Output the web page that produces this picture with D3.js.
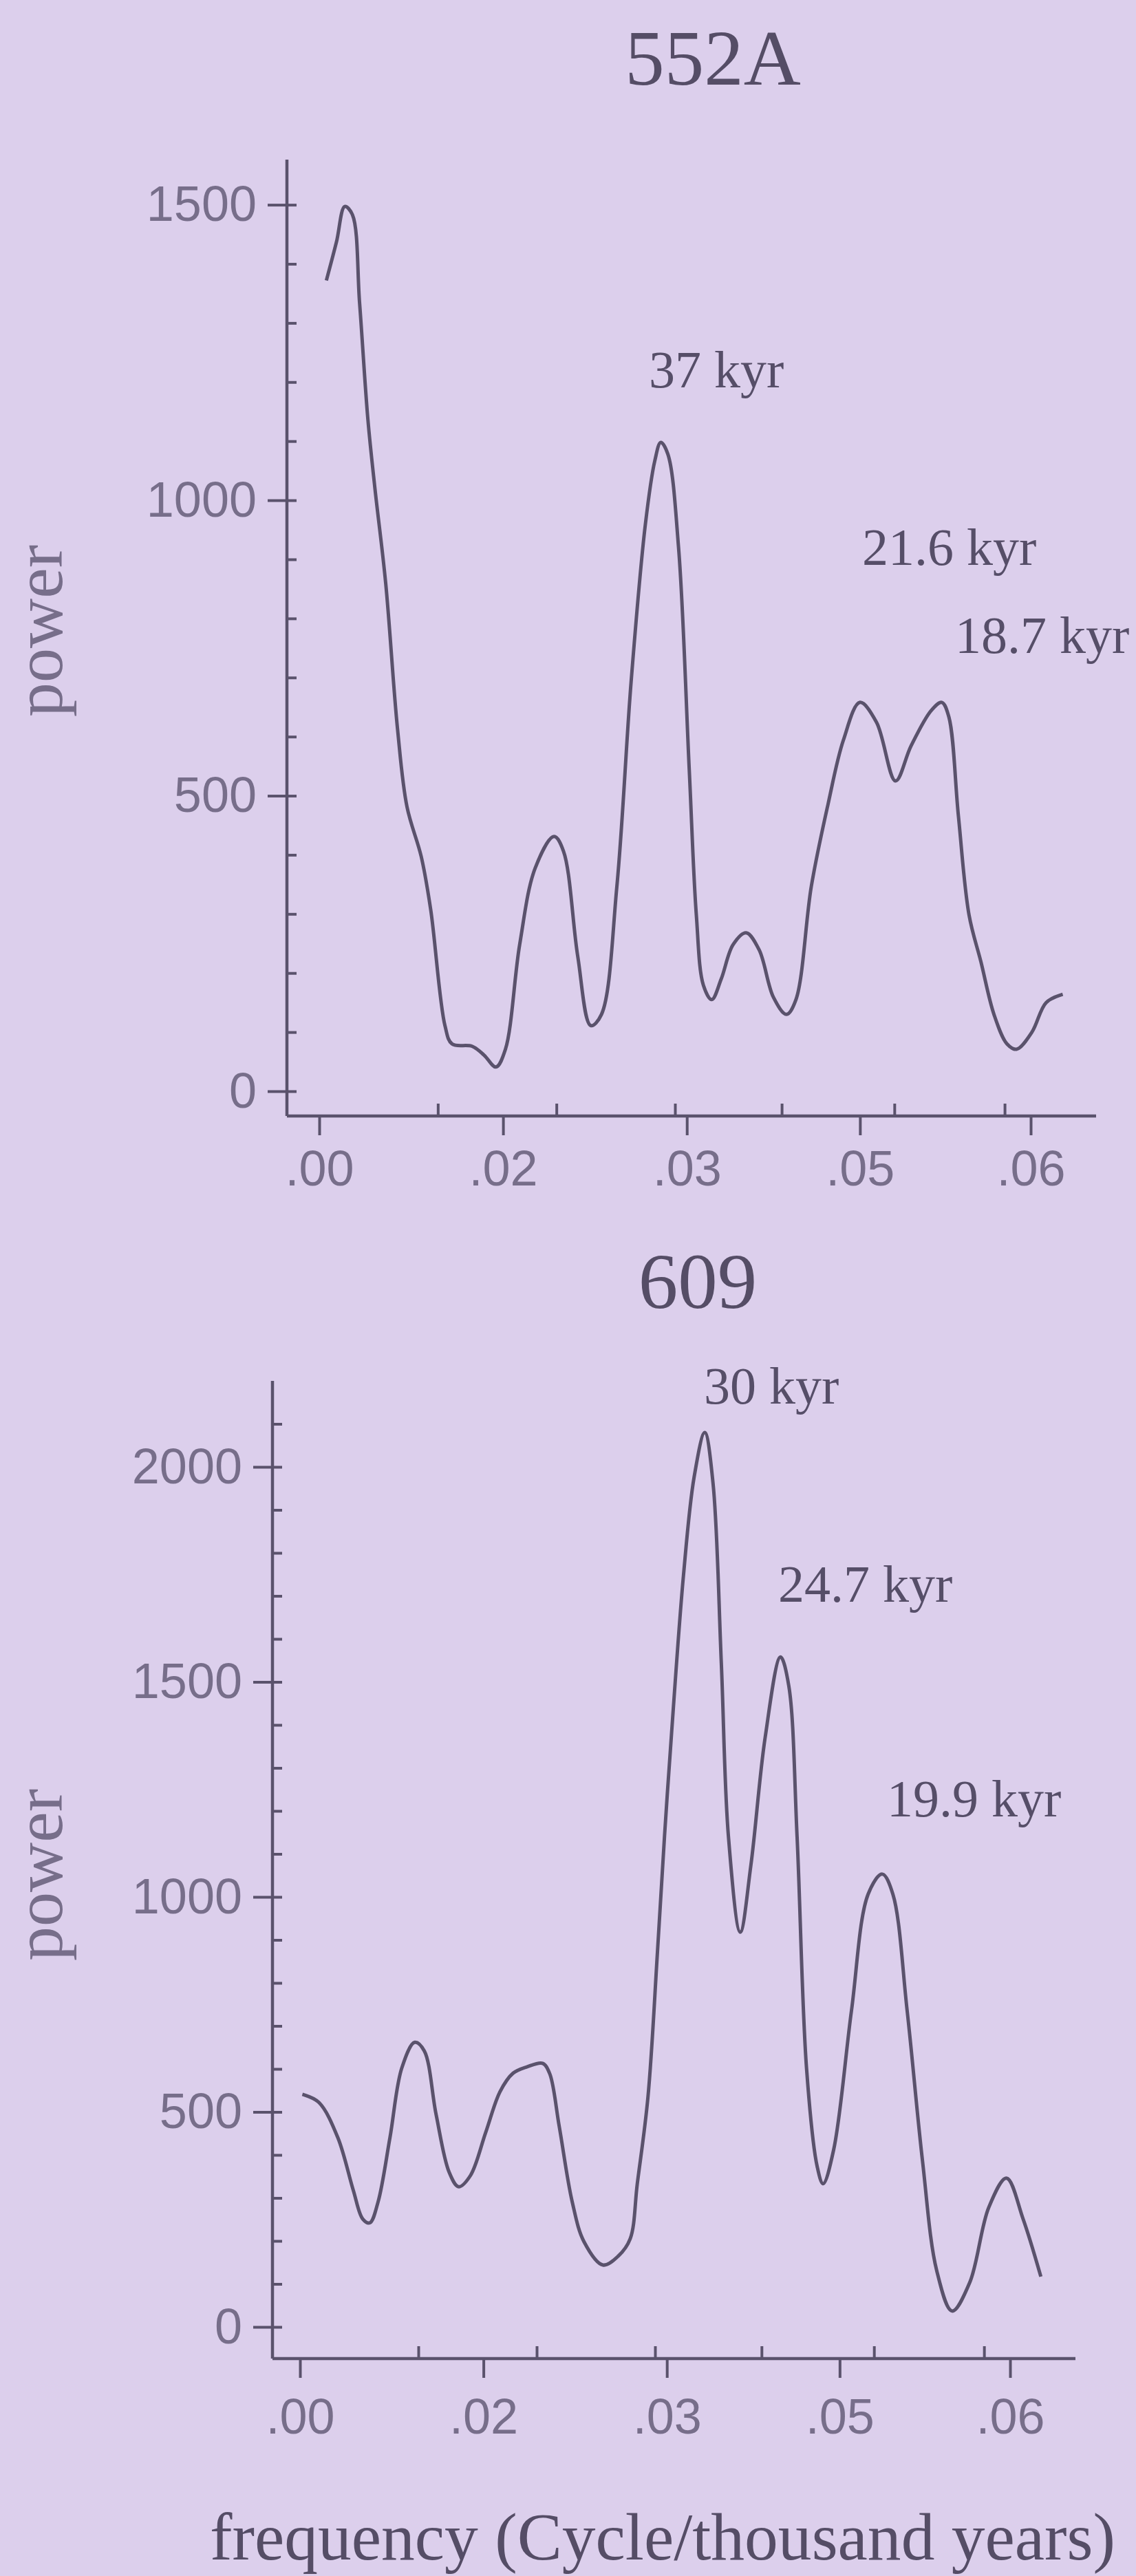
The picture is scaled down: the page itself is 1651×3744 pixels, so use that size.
<!DOCTYPE html>
<html>
<head>
<meta charset="utf-8">
<script src="https://cdn.jsdelivr.net/npm/d3@7"></script>
<style>
  body { margin: 0; background: #dccfec; }
</style>
</head>
<body>
<script>
// spectra (frequency in cycles/kyr, power)
var freq552A = [0.0006, 0.00145, 0.00215, 0.0028, 0.0034, 0.0041, 0.0047, 0.0056, 0.0066, 0.0074,
    0.0086, 0.0094, 0.0106, 0.0112, 0.0129, 0.0139, 0.0149, 0.0157, 0.0169, 0.0182,
    0.0198, 0.0206, 0.0218, 0.0229, 0.0238, 0.0251, 0.0263, 0.0275, 0.0283, 0.0288,
    0.0294, 0.0303, 0.0312, 0.0318, 0.0324, 0.0331, 0.0339, 0.0349, 0.0360, 0.0371,
    0.0383, 0.0394, 0.0402, 0.0415, 0.0429, 0.0442, 0.0456, 0.0470, 0.0486, 0.0499,
    0.0516, 0.0525, 0.0531, 0.0539, 0.0548, 0.0558, 0.0569, 0.0580, 0.0588, 0.0601,
    0.0613, 0.0627];
var power552A = [1372, 1437, 1497, 1483, 1334, 1137, 1019, 860, 613, 481,
    397, 307, 111, 80, 76, 61, 41, 71, 248, 377,
    431, 406, 228, 111, 130, 347, 693, 959, 1067, 1098,
    1078, 920, 545, 298, 179, 155, 190, 248, 268, 239,
    159, 130, 155, 347, 485, 594, 658, 624, 525, 584,
    644, 658, 633, 466, 298, 219, 130, 80, 71, 100,
    150, 164];

var freq609 = [0.0002, 0.0016, 0.0032, 0.0045, 0.0053, 0.0059, 0.0066, 0.0076, 0.0086, 0.0097,
    0.0105, 0.0115, 0.0126, 0.0134, 0.0144, 0.0157, 0.0169, 0.0180, 0.0192, 0.0205,
    0.0211, 0.0219, 0.0230, 0.0240, 0.0256, 0.0269, 0.0279, 0.0285, 0.0294, 0.0302,
    0.0308, 0.0314, 0.0324, 0.0333, 0.0342, 0.0349, 0.0356, 0.0362, 0.0372, 0.0381,
    0.0393, 0.0406, 0.0413, 0.0420, 0.0428, 0.0437, 0.0442, 0.0451, 0.0466, 0.0480,
    0.0492, 0.0501, 0.0513, 0.0526, 0.0538, 0.0551, 0.0566, 0.0582, 0.0597, 0.0611,
    0.0626];
var power609 = [541, 522, 440, 318, 251, 242, 291, 440, 602, 662,
    642, 494, 360, 326, 352, 453, 547, 590, 605, 613,
    589, 467, 291, 198, 144, 165, 205, 333, 534, 870,
    1141, 1382, 1747, 1976, 2080, 1962, 1544, 1141, 918, 1074,
    1370, 1558, 1491, 1141, 602, 373, 333, 413, 736, 1006,
    1053, 1006, 736, 386, 131, 37, 104, 278, 346, 251,
    117];

var xTickValues = [0, 0.0155, 0.031, 0.0456, 0.06];
var xTickLabels = [".00", ".02", ".03", ".05", ".06"];
var xMinorTicks = [0.01, 0.02, 0.03, 0.039, 0.0485, 0.0578];
var yTicks552A = [0, 500, 1000, 1500];
var yTicks609 = [0, 500, 1000, 1500, 2000];
var peaks552A = ["37 kyr", "21.6 kyr", "18.7 kyr"];
var peaks609 = ["30 kyr", "24.7 kyr", "19.9 kyr"];

var ink = "#5a526c";
var labelInk = "#776e8a";
var serif = "'Liberation Serif', 'Times New Roman', serif";
var sans = "'Liberation Sans', Arial, sans-serif";

var svg = d3.select("body").append("svg")
    .attr("width", 1651)
    .attr("height", 3744);

function drawPanel(site, freq, power, yTicks, yMinorTop, peaks, box) {
    var x = d3.scaleLinear().domain([0, 0.06]).range([box.x0, box.x6]);
    var y = d3.scaleLinear().domain([0, box.yMax]).range([box.y0, box.yMaxPx]);

    var graph = svg.append("g");

    // site title
    graph.append("text")
        .attr("x", box.titleX)
        .attr("y", box.titleY)
        .attr("text-anchor", "middle")
        .attr("font-family", serif)
        .attr("font-size", "115px")
        .attr("fill", "#554d66")
        .text(site);

    // y label
    graph.append("text")
        .attr("transform", "translate(" + box.powerX + "," + box.powerY + ")rotate(-90)")
        .attr("text-anchor", "middle")
        .attr("font-family", serif)
        .attr("font-size", "100px")
        .attr("fill", labelInk)
        .text("power");

    // axis lines
    graph.append("line")
        .attr("x1", box.axisX).attr("x2", box.axisX)
        .attr("y1", box.axisTop).attr("y2", box.axisY)
        .attr("stroke", ink).attr("stroke-width", 4.5);
    graph.append("line")
        .attr("x1", box.axisX).attr("x2", box.axisRight)
        .attr("y1", box.axisY).attr("y2", box.axisY)
        .attr("stroke", ink).attr("stroke-width", 4.5);

    // y ticks, labelled majors cross the axis, minors point right
    graph.append("g")
        .attr("transform", "translate(" + box.axisX + ",0)")
        .call(d3.axisLeft(y).tickValues(yTicks).tickSize(28).tickPadding(16).tickFormat(d3.format("d")))
        .call(g => g.select(".domain").remove())
        .attr("color", ink)
        .attr("font-family", sans)
        .attr("font-size", 72)
        .call(g => g.selectAll("line").attr("stroke-width", 4))
        .call(g => g.selectAll("text").attr("fill", labelInk));

    graph.append("g")
        .attr("transform", "translate(" + box.axisX + ",0)")
        .call(d3.axisRight(y).tickValues(d3.range(0, yMinorTop + 1, 100)).tickSize(14).tickFormat(""))
        .call(g => g.select(".domain").remove())
        .attr("color", ink)
        .call(g => g.selectAll("line").attr("stroke-width", 4));

    // x ticks, labelled point down, the others point up
    graph.append("g")
        .attr("transform", "translate(0," + box.axisY + ")")
        .call(d3.axisBottom(x).tickValues(xTickValues).tickSize(28).tickPadding(box.xPad)
            .tickFormat(function(d, i) { return xTickLabels[i]; }))
        .call(g => g.select(".domain").remove())
        .attr("color", ink)
        .attr("font-family", sans)
        .attr("font-size", 72)
        .call(g => g.selectAll("line").attr("stroke-width", 4))
        .call(g => g.selectAll("text").attr("fill", labelInk));

    graph.append("g")
        .attr("transform", "translate(0," + box.axisY + ")")
        .call(d3.axisTop(x).tickValues(xMinorTicks).tickSize(18).tickFormat(""))
        .call(g => g.select(".domain").remove())
        .attr("color", ink)
        .call(g => g.selectAll("line").attr("stroke-width", 4));

    // spectrum
    var line = d3.line()
        .x(d => x(d[0]))
        .y(d => y(d[1]))
        .curve(d3.curveCatmullRom.alpha(0.5));

    graph.append("path")
        .datum(d3.zip(freq, power))
        .attr("fill", "none")
        .attr("stroke", ink)
        .attr("stroke-width", 5)
        .attr("stroke-linejoin", "round")
        .attr("d", line);

    // peak periods
    graph.selectAll(".peak")
        .data(peaks)
        .enter()
        .append("text")
        .attr("class", "peak")
        .attr("x", (d, i) => box.peakPos[i][0])
        .attr("y", (d, i) => box.peakPos[i][1])
        .attr("font-family", serif)
        .attr("font-size", "76px")
        .attr("fill", "#564e68")
        .text(d => d);
}

drawPanel("552A", freq552A, power552A, yTicks552A, 1500, peaks552A, {
    x0: 464, x6: 1498, y0: 1586, yMax: 1500, yMaxPx: 297.6,
    axisX: 417, axisY: 1622, axisTop: 232, axisRight: 1593, xPad: 22,
    titleX: 1036, titleY: 123, powerX: 90, powerY: 917,
    peakPos: [[943, 563], [1253, 821], [1388, 949]]
});

drawPanel("609", freq609, power609, yTicks609, 2100, peaks609, {
    x0: 436, x6: 1468, y0: 3382, yMax: 2000, yMaxPx: 2132,
    axisX: 396, axisY: 3428, axisTop: 2007, axisRight: 1563, xPad: 30,
    titleX: 1014, titleY: 1901, powerX: 90, powerY: 2725,
    peakPos: [[1023, 2040], [1131, 2328], [1289, 2640]]
});

svg.append("text")
    .attr("x", 305)
    .attr("y", 3720)
    .attr("font-family", serif)
    .attr("font-size", "97px")
    .attr("fill", "#554d66")
    .attr("textLength", 1316)
    .attr("lengthAdjust", "spacingAndGlyphs")
    .text("frequency (Cycle/thousand years)");
</script>
</body>
</html>
